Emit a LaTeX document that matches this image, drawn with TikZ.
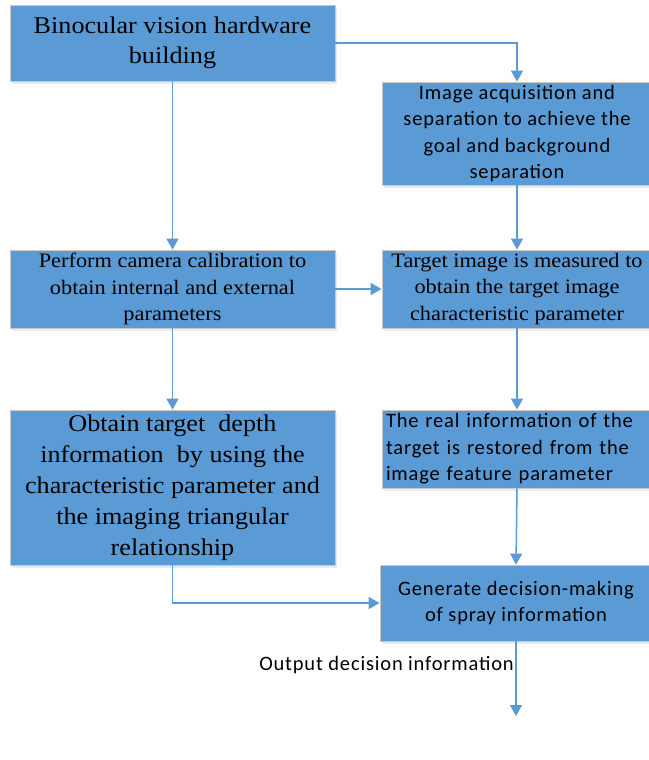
\documentclass[tikz,border=0pt]{standalone}
\usepackage{fontspec}
\setmainfont{Liberation Serif}
\newfontfamily\wideserif[FakeStretch=1.09]{Liberation Serif}
\newfontfamily\calfont[LetterSpace=4]{Carlito}
\usetikzlibrary{arrows.meta,shadows}
\definecolor{boxblue}{HTML}{5B9BD5}
\definecolor{boxline}{HTML}{C9C9C9}
\tikzset{
  box/.style={draw=boxline, fill=boxblue, line width=0.8pt, align=center, inner sep=2pt,
    drop shadow={opacity=0.15, shadow xshift=2pt, shadow yshift=-3pt}},
  flow/.style={draw=boxblue, line width=1.5pt, -{Triangle[length=11pt,width=12pt]}},
  bigserif/.style={font=\wideserif\fontsize{24}{30}\selectfont},
  smallserif/.style={font=\wideserif\fontsize{20.5}{26.5}\selectfont},
  calibri/.style={font=\calfont\fontsize{20.5}{26.5}\selectfont},
}
\begin{document}
\begin{tikzpicture}[x=1pt, y=1pt]
\useasboundingbox (0,0) rectangle (648,-760);
\node[box, bigserif, minimum width=325pt, minimum height=76pt] (hw) at (172.5,-43)
  {Binocular vision hardware\\ building};
\node[box, calibri, minimum width=270pt, minimum height=103pt] (acq) at (517,-133.5)
  {Image acquisition and\\ separation to achieve the\\ goal and background\\ separation};
\node[box, smallserif, minimum width=325pt, minimum height=78pt] (calib) at (172.5,-289)
  {Perform camera calibration to\\ obtain internal and external\\ parameters};
\node[box, smallserif, minimum width=270pt, minimum height=78pt] (meas) at (517,-289)
  {Target image is measured to\\ obtain the target image\\ characteristic parameter};
\node[box, bigserif, font=\wideserif\fontsize{24}{31}\selectfont, minimum width=325pt, minimum height=155pt] (depth) at (172.5,-487.5)
  {Obtain target\ \ depth\\ information\ \ by using the\\ characteristic parameter and\\ the imaging triangular\\ relationship};
\node[box, calibri, minimum width=270pt, minimum height=78pt, align=left, text width=262pt] (real) at (517,-449)
  {The real information of the\\ target is restored from the\\ image feature parameter};
\node[box, calibri, minimum width=272pt, minimum height=76pt] (spray) at (516,-603)
  {Generate decision-making\\ of spray information};
\node[calibri, anchor=east, inner sep=0pt] (outlbl) at (514,-665)
  {Output decision information};
\coordinate (out) at (516,-716);

\draw[flow] (hw.east) -| (acq.north);
\draw[flow] (hw.south) -- (calib.north);
\draw[flow] (acq.south) -- (meas.north);
\draw[flow] (calib.east) -- (meas.west);
\draw[flow] (calib.south) -- (depth.north);
\draw[flow] (meas.south) -- (real.north);
\draw[flow] (real.south) -- (spray.north);
\draw[flow] (depth.south) |- (spray.west);
\draw[flow] (spray.south) -- (out);

\end{tikzpicture}
\end{document}
